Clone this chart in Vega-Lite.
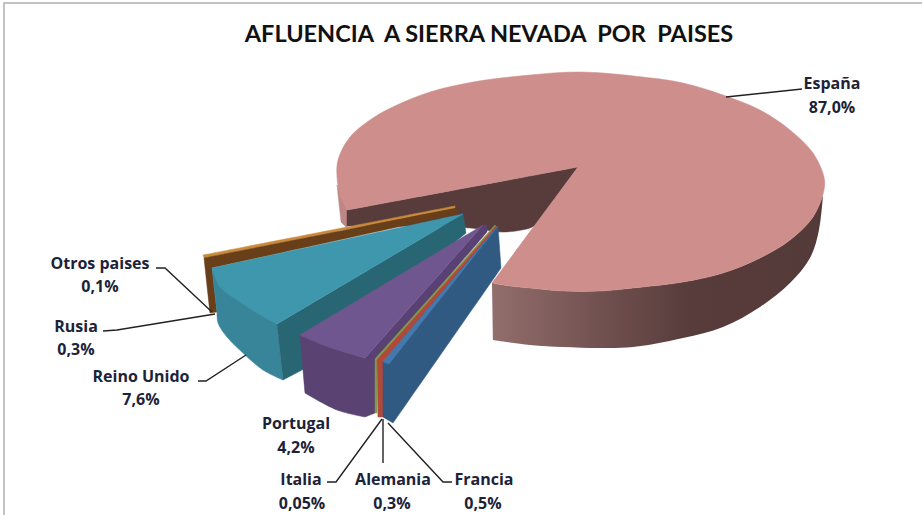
{"$schema":"https://vega.github.io/schema/vega-lite/v6.json","width":922,"height":515,"padding":0,"autosize":"none","background":"white","view":{"stroke":null},
"title":{"text":"AFLUENCIA\u00a0\u00a0A SIERRA NEVADA\u00a0 POR\u00a0 PAISES","anchor":"middle","frame":"group","orient":"top","offset":-46,"dx":28,"font":"Lato","fontSize":23.5,"fontWeight":"bold","color":"#111111"},
"datasets":{
"muro":[{"x":492,"y":283},{"x":492,"y":283},{"x":510,"y":286},{"x":530,"y":288},{"x":563,"y":291},{"x":600,"y":291},{"x":633,"y":288},{"x":683,"y":282},{"x":723,"y":273},{"x":760,"y":258},{"x":790,"y":240},{"x":813,"y":217},{"x":823,"y":195},{"x":823,"y":195},{"x":819,"y":230},{"x":810,"y":258},{"x":790,"y":283},{"x":760,"y":307},{"x":723,"y":327},{"x":683,"y":338},{"x":633,"y":347},{"x":600,"y":348},{"x":563,"y":347},{"x":530,"y":345},{"x":493,"y":340},{"x":493,"y":340}],
"caras":[
{"parte":"a1","x":337,"y":185},{"parte":"a1","x":337,"y":185},{"parte":"a1","x":347,"y":205},{"parte":"a1","x":347,"y":205},{"parte":"a1","x":347,"y":228},{"parte":"a1","x":347,"y":228},{"parte":"a1","x":341,"y":222},{"parte":"a1","x":341,"y":222},
{"parte":"a2","x":347,"y":210},{"parte":"a2","x":347,"y":210},{"parte":"a2","x":578,"y":167},{"parte":"a2","x":578,"y":167},{"parte":"a2","x":537,"y":224},{"parte":"a2","x":537,"y":224},{"parte":"a2","x":530,"y":228},{"parte":"a2","x":503,"y":232},{"parte":"a2","x":470,"y":228},{"parte":"a2","x":347,"y":226},{"parte":"a2","x":347,"y":226},
{"parte":"a3","x":578,"y":167},{"parte":"a3","x":578,"y":167},{"parte":"a3","x":347,"y":210},{"parte":"a3","x":347,"y":210},{"parte":"a3","x":340,"y":195},{"parte":"a3","x":337,"y":177},{"parte":"a3","x":338,"y":160},{"parte":"a3","x":350,"y":137},{"parte":"a3","x":373,"y":118},{"parte":"a3","x":397,"y":105},{"parte":"a3","x":430,"y":92},{"parte":"a3","x":473,"y":82},{"parte":"a3","x":530,"y":75},{"parte":"a3","x":580,"y":72},{"parte":"a3","x":643,"y":77},{"parte":"a3","x":683,"y":83},{"parte":"a3","x":723,"y":95},{"parte":"a3","x":760,"y":110},{"parte":"a3","x":790,"y":130},{"parte":"a3","x":813,"y":153},{"parte":"a3","x":824,"y":177},{"parte":"a3","x":824,"y":190},{"parte":"a3","x":813,"y":217},{"parte":"a3","x":790,"y":240},{"parte":"a3","x":760,"y":258},{"parte":"a3","x":723,"y":273},{"parte":"a3","x":683,"y":282},{"parte":"a3","x":633,"y":288},{"parte":"a3","x":600,"y":291},{"parte":"a3","x":563,"y":291},{"parte":"a3","x":530,"y":288},{"parte":"a3","x":510,"y":286},{"parte":"a3","x":492,"y":283},{"parte":"a3","x":492,"y":283},
{"parte":"b1","x":203,"y":255},{"parte":"b1","x":203,"y":255},{"parte":"b1","x":455,"y":206},{"parte":"b1","x":455,"y":206},{"parte":"b1","x":455,"y":208},{"parte":"b1","x":455,"y":208},{"parte":"b1","x":204,"y":258},{"parte":"b1","x":204,"y":258},
{"parte":"c1","x":204,"y":258},{"parte":"c1","x":204,"y":258},{"parte":"c1","x":457,"y":208},{"parte":"c1","x":457,"y":208},{"parte":"c1","x":457,"y":214},{"parte":"c1","x":457,"y":214},{"parte":"c1","x":212,"y":268},{"parte":"c1","x":212,"y":268},{"parte":"c1","x":217,"y":312},{"parte":"c1","x":217,"y":312},{"parte":"c1","x":210,"y":313},{"parte":"c1","x":210,"y":313},
{"parte":"d1","x":212,"y":268},{"parte":"d1","x":212,"y":268},{"parte":"d1","x":277,"y":324},{"parte":"d1","x":277,"y":324},{"parte":"d1","x":283,"y":380},{"parte":"d1","x":283,"y":380},{"parte":"d1","x":263,"y":370},{"parte":"d1","x":243,"y":353},{"parte":"d1","x":227,"y":337},{"parte":"d1","x":218,"y":323},{"parte":"d1","x":217,"y":312},{"parte":"d1","x":217,"y":312},
{"parte":"d2","x":463,"y":214},{"parte":"d2","x":463,"y":214},{"parte":"d2","x":466,"y":233},{"parte":"d2","x":466,"y":233},{"parte":"d2","x":302,"y":370},{"parte":"d2","x":302,"y":370},{"parte":"d2","x":283,"y":380},{"parte":"d2","x":283,"y":380},{"parte":"d2","x":277,"y":324},{"parte":"d2","x":277,"y":324},
{"parte":"d3","x":463,"y":214},{"parte":"d3","x":463,"y":214},{"parte":"d3","x":212,"y":268},{"parte":"d3","x":212,"y":268},{"parte":"d3","x":220,"y":287},{"parte":"d3","x":237,"y":300},{"parte":"d3","x":257,"y":313},{"parte":"d3","x":277,"y":324},{"parte":"d3","x":277,"y":324},
{"parte":"e1","x":300,"y":335},{"parte":"e1","x":300,"y":335},{"parte":"e1","x":365,"y":358},{"parte":"e1","x":365,"y":358},{"parte":"e1","x":375,"y":360},{"parte":"e1","x":375,"y":360},{"parte":"e1","x":375,"y":413},{"parte":"e1","x":375,"y":413},{"parte":"e1","x":365,"y":417},{"parte":"e1","x":365,"y":417},{"parte":"e1","x":337,"y":410},{"parte":"e1","x":305,"y":393},{"parte":"e1","x":305,"y":393},
{"parte":"e2","x":483,"y":225},{"parte":"e2","x":483,"y":225},{"parte":"e2","x":487,"y":225},{"parte":"e2","x":487,"y":225},{"parte":"e2","x":487,"y":232},{"parte":"e2","x":487,"y":232},{"parte":"e2","x":375,"y":362},{"parte":"e2","x":375,"y":362},{"parte":"e2","x":365,"y":358},{"parte":"e2","x":365,"y":358},
{"parte":"e3","x":483,"y":225},{"parte":"e3","x":483,"y":225},{"parte":"e3","x":300,"y":335},{"parte":"e3","x":300,"y":335},{"parte":"e3","x":323,"y":345},{"parte":"e3","x":347,"y":353},{"parte":"e3","x":365,"y":358},{"parte":"e3","x":365,"y":358},
{"parte":"f1","x":495,"y":225},{"parte":"f1","x":495,"y":225},{"parte":"f1","x":375,"y":359},{"parte":"f1","x":375,"y":359},{"parte":"f1","x":375,"y":413},{"parte":"f1","x":375,"y":413},{"parte":"f1","x":377,"y":413},{"parte":"f1","x":377,"y":413},{"parte":"f1","x":377,"y":361},{"parte":"f1","x":377,"y":361},{"parte":"f1","x":496,"y":226},{"parte":"f1","x":496,"y":226},
{"parte":"g1","x":496,"y":226},{"parte":"g1","x":496,"y":226},{"parte":"g1","x":377,"y":360},{"parte":"g1","x":377,"y":360},{"parte":"g1","x":378,"y":417},{"parte":"g1","x":378,"y":417},{"parte":"g1","x":385,"y":417},{"parte":"g1","x":385,"y":417},{"parte":"g1","x":383,"y":362},{"parte":"g1","x":383,"y":362},{"parte":"g1","x":497,"y":228},{"parte":"g1","x":497,"y":228},
{"parte":"h1","x":498,"y":226},{"parte":"h1","x":498,"y":226},{"parte":"h1","x":501,"y":268},{"parte":"h1","x":501,"y":268},{"parte":"h1","x":393,"y":423},{"parte":"h1","x":393,"y":423},{"parte":"h1","x":383,"y":417},{"parte":"h1","x":383,"y":417},{"parte":"h1","x":383,"y":362},{"parte":"h1","x":383,"y":362},
{"parte":"h2","x":498,"y":226},{"parte":"h2","x":498,"y":226},{"parte":"h2","x":383,"y":362},{"parte":"h2","x":383,"y":362},{"parte":"h2","x":389,"y":364},{"parte":"h2","x":389,"y":364}
],
"guias":[
{"g":"España","x":726,"y":97},{"g":"España","x":802,"y":89},
{"g":"Otros","x":156,"y":268},{"g":"Otros","x":165,"y":268},{"g":"Otros","x":212,"y":312},
{"g":"Rusia","x":103,"y":331},{"g":"Rusia","x":117,"y":330},{"g":"Rusia","x":215,"y":314},
{"g":"Reino","x":198,"y":381},{"g":"Reino","x":206,"y":381},{"g":"Reino","x":246,"y":355},
{"g":"Italia","x":327,"y":482},{"g":"Italia","x":336,"y":482},{"g":"Italia","x":382,"y":419},
{"g":"Alemania","x":383,"y":419},{"g":"Alemania","x":383,"y":463},
{"g":"Francia","x":388,"y":423},{"g":"Francia","x":443,"y":482},{"g":"Francia","x":452,"y":482}
],
"marco":[{"x":922,"y":3},{"x":4,"y":3},{"x":4,"y":515}],
"textos":[
{"t":"España","x":832,"y":84},{"t":"87,0%","x":832,"y":108},
{"t":"Otros paises","x":100,"y":264},{"t":"0,1%","x":100,"y":287},
{"t":"Rusia","x":76,"y":327},{"t":"0,3%","x":76,"y":350},
{"t":"Reino Unido","x":141,"y":377},{"t":"7,6%","x":141,"y":400},
{"t":"Portugal","x":296,"y":424},{"t":"4,2%","x":296,"y":448},
{"t":"Italia","x":301,"y":480},{"t":"0,05%","x":302,"y":504},
{"t":"Alemania","x":393,"y":480},{"t":"0,3%","x":392,"y":504},
{"t":"Francia","x":484,"y":480},{"t":"0,5%","x":483,"y":504}
]},
"encoding":{"x":{"field":"x","type":"quantitative","scale":{"domain":[0,922]},"axis":null},"y":{"field":"y","type":"quantitative","scale":{"domain":[0,515],"reverse":true},"axis":null}},
"layer":[
{"data":{"name":"marco"},"transform":[{"window":[{"op":"row_number","as":"o"}]}],"mark":{"type":"line","stroke":"#b0b0b0","strokeWidth":1.5},"encoding":{"order":{"field":"o","type":"quantitative"}}},
{"data":{"name":"muro"},"transform":[{"window":[{"op":"row_number","as":"o"}]}],"mark":{"type":"line","interpolate":"catmull-rom-closed","strokeWidth":0,"fill":{"gradient":"linear","x1":0,"x2":1,"y1":0,"y2":0,"stops":[{"offset":0,"color":"#926e6c"},{"offset":0.35,"color":"#6f4f4e"},{"offset":0.6,"color":"#573c3b"},{"offset":1,"color":"#553a3a"}]}},"encoding":{"order":{"field":"o","type":"quantitative"}}},
{"data":{"name":"caras"},"transform":[{"window":[{"op":"row_number","as":"o"}]}],"mark":{"type":"line","interpolate":"catmull-rom-closed","strokeWidth":0.5},
"encoding":{"detail":{"field":"parte"},"order":{"field":"o","type":"quantitative"},
"fill":{"field":"parte","type":"nominal","legend":null,"scale":{"domain":["a1","a2","a3","b1","c1","d1","d2","d3","e1","e2","e3","f1","g1","h1","h2"],"range":["#bd8786","#583c3c","#cd8e8c","#c98a3c","#693f1a","#38859a","#286674","#3f97ad","#5a4272","#5a4173","#70568e","#7f9a4a","#b0483c","#315a82","#4379ad"]}},
"stroke":{"field":"parte","type":"nominal","legend":null,"scale":{"domain":["a1","a2","a3","b1","c1","d1","d2","d3","e1","e2","e3","f1","g1","h1","h2"],"range":["#bd8786","#583c3c","#cd8e8c","#c98a3c","#693f1a","#38859a","#286674","#3f97ad","#5a4272","#5a4173","#70568e","#7f9a4a","#b0483c","#315a82","#4379ad"]}}}},
{"data":{"name":"guias"},"transform":[{"window":[{"op":"row_number","as":"o"}]}],"mark":{"type":"line","stroke":"#222222","strokeWidth":1.4},"encoding":{"detail":{"field":"g"},"order":{"field":"o","type":"quantitative"}}},
{"data":{"name":"textos"},"mark":{"type":"text","font":"Open Sans","fontSize":16,"fontWeight":"bold","color":"#1c2338","align":"center","baseline":"middle"},"encoding":{"text":{"field":"t"}}}
]}
